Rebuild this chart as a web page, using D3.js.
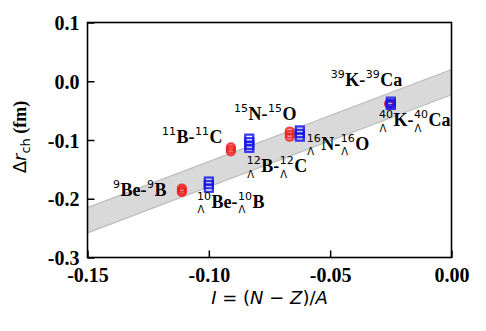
<!DOCTYPE html>
<meta charset="utf-8">
<style>
  body { margin: 0; background: #fff; }
  .axis path, .axis line { stroke: #000; }
  .tick text { font-family: "Liberation Serif", serif; font-weight: bold; font-size: 20px; }
</style>
<div class="chart"></div>
<script src="https://cdn.jsdelivr.net/npm/d3@7"></script>
<script>
  // mirror pairs: red circles (ordinary nuclei), blue squares (hypernuclei)
  var redI = [-1/9, -1/11, -1/15, -1/39];
  var redVals = [[-0.182, -0.186, -0.189], [-0.112, -0.116, -0.120], [-0.085, -0.090, -0.095], [-0.038, -0.039]];
  var blueI = [-1/10, -1/12, -1/16, -1/40];
  var blueVals = [[-0.170, -0.176, -0.182], [-0.097, -0.103, -0.109, -0.114], [-0.083, -0.089, -0.095], [-0.034, -0.038, -0.041]];

  // linear band
  var bandI = [-0.15, 0];
  var bandUpper = [-0.215, 0.020];
  var bandLower = [-0.258, -0.023];

  var xTicks = [-0.15, -0.10, -0.05, 0.00];
  var yTicks = [0.1, 0.0, -0.1, -0.2, -0.3];

  // label anchors (I, dr) and text parts: "s:" superscript, "h:" superscript with Lambda below
  var labelPos = [[-0.1395, -0.195], [-0.1049, -0.2157], [-0.1193, -0.105], [-0.0844, -0.1545],
                  [-0.0896, -0.066], [-0.0597, -0.117], [-0.0498, -0.008], [-0.0299, -0.077]];
  var labelParts = [
    ["s:9", "Be-", "s:9", "B"],
    ["h:10", "Be-", "h:10", "B"],
    ["s:11", "B-", "s:11", "C"],
    ["h:12", "B-", "h:12", "C"],
    ["s:15", "N-", "s:15", "O"],
    ["h:16", "N-", "h:16", "O"],
    ["s:39", "K-", "s:39", "Ca"],
    ["h:40", "K-", "h:40", "Ca"]
  ];

  var W = 486, H = 331,
      margin = {top: 22.5, right: 34.5, bottom: 73.5, left: 87.5};
  var width = W - margin.left - margin.right,
      height = H - margin.top - margin.bottom;

  var x = d3.scaleLinear().domain([-0.15, 0]).range([0, width]);
  var y = d3.scaleLinear().domain([-0.3, 0.1]).range([height, 0]);

  var svg = d3.select(".chart").append("svg")
      .attr("width", W).attr("height", H)
      .append("g")
      .attr("transform", "translate(" + margin.left + "," + margin.top + ")");

  svg.append("clipPath").attr("id", "clip")
    .append("rect").attr("width", width).attr("height", height);

  var plot = svg.append("g").attr("clip-path", "url(#clip)");

  var band = bandI.map((d, i) => ({i: d, lo: bandLower[i], hi: bandUpper[i]}));
  plot.append("path").datum(band)
      .attr("fill", "#d9d9d9")
      .attr("d", d3.area().x(d => x(d.i)).y0(d => y(d.lo)).y1(d => y(d.hi)));
  plot.append("path").datum(band)
      .attr("fill", "none").attr("stroke", "#bdbdbd").attr("stroke-width", 1.3)
      .attr("d", d3.line().x(d => x(d.i)).y(d => y(d.hi)));
  plot.append("path").datum(band)
      .attr("fill", "none").attr("stroke", "#bdbdbd").attr("stroke-width", 1.3)
      .attr("d", d3.line().x(d => x(d.i)).y(d => y(d.lo)));

  var redPts = [], bluePts = [];
  redI.forEach((v, i) => redVals[i].forEach(r => redPts.push([v, r])));
  blueI.forEach((v, i) => blueVals[i].forEach(r => bluePts.push([v, r])));

  plot.selectAll(".red").data(redPts).enter().append("ellipse")
      .attr("class", "red")
      .attr("cx", d => x(d[0])).attr("cy", d => y(d[1]))
      .attr("rx", 4).attr("ry", 3.6)
      .attr("fill", "none").attr("stroke", "#ee1c1c").attr("stroke-width", 2.2)
      .attr("stroke-opacity", 0.85);

  plot.selectAll(".blue").data(bluePts).enter().append("rect")
      .attr("class", "blue")
      .attr("x", d => x(d[0]) - 4).attr("y", d => y(d[1]) - 3.6)
      .attr("width", 8).attr("height", 7.2)
      .attr("fill", "none").attr("stroke", "#1414ee").attr("stroke-width", 2.2)
      .attr("stroke-opacity", 0.85);

  // frame
  svg.append("rect").attr("width", width).attr("height", height)
      .attr("fill", "none").attr("stroke", "#000").attr("stroke-width", 1.6);

  var xAxis = d3.axisBottom(x).tickValues(xTicks).tickSizeInner(-7).tickSizeOuter(0)
      .tickPadding(10).tickFormat(d3.format(".2f"));
  var yAxis = d3.axisLeft(y).tickValues(yTicks).tickSizeInner(-7).tickSizeOuter(0)
      .tickPadding(8).tickFormat(d3.format(".1f"));

  var gx = svg.append("g").attr("class", "x axis")
      .attr("transform", "translate(0," + height + ")").call(xAxis);
  var gy = svg.append("g").attr("class", "y axis").call(yAxis);
  [gx, gy].forEach(g => {
    g.select(".domain").remove();
    g.selectAll(".tick line").attr("stroke-width", 1.5);
    g.selectAll(".tick text").attr("fill", "#000").text(function() { return this.textContent.replace("−", "-"); });
  });
  gy.selectAll(".tick text").attr("dy", "0.36em");

  // labels
  labelPos.forEach((p, k) => {
    var g = svg.append("g").attr("transform", "translate(" + x(p[0]) + "," + y(p[1]) + ")");
    var cur = 0;
    labelParts[k].forEach(part => {
      if (part.startsWith("s:") || part.startsWith("h:")) {
        var t = g.append("text").attr("x", cur).attr("y", -8)
            .style("font-family", "DejaVu Sans").style("font-size", "11px").text(part.slice(2));
        var w = t.node().getComputedTextLength();
        if (part.startsWith("h:")) {
          var l = g.append("text").attr("x", cur + 0.5).attr("y", 5.5)
              .style("font-family", "DejaVu Sans").style("font-size", "10px").text("\u039b");
          w = Math.max(w, l.node().getComputedTextLength());
        }
        cur += w + 0.5;
      } else {
        var m = g.append("text").attr("x", cur).attr("y", 0)
            .style("font-family", "Liberation Serif").style("font-weight", "bold")
            .style("font-size", "18px").text(part);
        cur += m.node().getComputedTextLength() + 0.5;
      }
    });
  });

  // axis titles
  var xt = svg.append("text").attr("x", width / 2).attr("y", height + 46)
      .attr("text-anchor", "middle")
      .style("font-family", "DejaVu Sans").style("font-size", "18px");
  xt.append("tspan").style("font-style", "italic").text("I");
  xt.append("tspan").text(" = (");
  xt.append("tspan").style("font-style", "italic").text("N");
  xt.append("tspan").text(" \u2212 ");
  xt.append("tspan").style("font-style", "italic").text("Z");
  xt.append("tspan").text(")/");
  xt.append("tspan").style("font-style", "italic").text("A");

  var yt = svg.append("text")
      .attr("transform", "translate(" + (26 - margin.left) + "," + (height / 2 - 3) + ") rotate(-90)")
      .attr("text-anchor", "middle")
      .style("font-family", "DejaVu Sans").style("font-size", "18px");
  yt.append("tspan").text("\u0394");
  yt.append("tspan").style("font-style", "italic").text("r");
  yt.append("tspan").attr("dy", 4).style("font-size", "13px").text("ch");
  yt.append("tspan").attr("dy", -4).style("font-family", "Liberation Serif").style("font-weight", "bold").text(" (fm)");
</script>
